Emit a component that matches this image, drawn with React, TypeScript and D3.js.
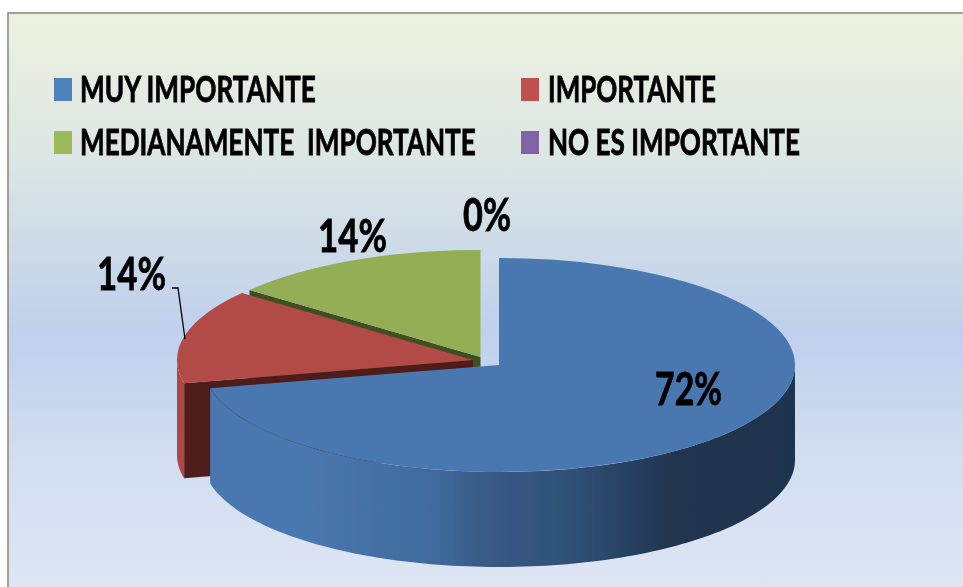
import React from "react";
import * as d3 from "d3";

const categories = ["MUY IMPORTANTE", "IMPORTANTE", "MEDIANAMENTE IMPORTANTE", "NO ES IMPORTANTE"];
const values = [71.5, 14.25, 14.25, 0];
const topColors = ["#4a78b0", "#b24b46", "#93ae55", "#7d61a0"];
const legendColors = ["#4f81bd", "#c0504d", "#9bbb59", "#8064a2"];
const wallColors = ["url(#blueWall)", "#ad4843", "#4a5c28", "#4a3a60"];
const faceColors = ["#2b4a70", "#4f1e1c", "#3f4f22", "#3a2c50"];
const slicePositions = [
  { cx: 499, cy: 365 },
  { cx: 473, cy: 360 },
  { cx: 480.5, cy: 357 },
  { cx: 480.5, cy: 357 },
];
const legendLayout = [
  { box: 54, x: 80, y: 102, w: 237, gap: 0 },
  { box: 521, x: 548, y: 102, w: 168, gap: 0 },
  { box: 54, x: 80, y: 155, w: 396, gap: 9 },
  { box: 521, x: 548, y: 155, w: 252, gap: 0 },
];
const labelLayout = [
  { x: 655, y: 405, w: 67 },
  { x: 97, y: 290, w: 69 },
  { x: 318, y: 252, w: 69 },
  { x: 463, y: 231, w: 48 },
];

const W = 963;
const H = 587;
const RX = 296;
const RY = 107;
const DEPTH = 95;
const FONT = "Lato, 'Open Sans', sans-serif";

const point = (cx: number, cy: number, a: number, drop = 0): [number, number] => [
  cx + RX * Math.sin(a),
  cy - RY * Math.cos(a) + drop,
];
const line = d3.line();

function ellipseArc(cx: number, cy: number, a0: number, a1: number, drop = 0) {
  return d3.range(0, 121).map((i) => point(cx, cy, a0 + ((a1 - a0) * i) / 120, drop));
}

function measure(text: string, size: number, gap: number) {
  const ctx = document.createElement("canvas").getContext("2d") as any;
  ctx.font = `700 ${size}px ${FONT}`;
  ctx.wordSpacing = `${gap}px`;
  return ctx.measureText(text).width;
}

function FitText({ text, x, y, w, size, gap = 0 }: { text: string; x: number; y: number; w: number; size: number; gap?: number }) {
  const sx = w / measure(text, size, gap);
  return (
    <text
      transform={`translate(${x},${y}) scale(${sx},1)`}
      fontFamily={FONT}
      fontWeight={700}
      fontSize={size}
      wordSpacing={gap}
      fill="#000"
      stroke="#000"
      strokeWidth={0.8}
    >
      {text}
    </text>
  );
}

export default function App() {
  const arcs = d3.pie<number>().sort(null).value((d) => d)(values);
  const arc = d3.arc();
  const order = [3, 2, 1, 0];

  return (
    <svg
      width={W}
      height={H}
      viewBox={`0 0 ${W} ${H}`}
      style={{ position: "fixed", left: 0, top: 0, display: "block" }}
    >
      <defs>
        <linearGradient id="bg" x1="0" y1="0" x2="0" y2="1">
          <stop offset="0" stopColor="#eef1df" />
          <stop offset="0.25" stopColor="#dbe5e4" />
          <stop offset="0.52" stopColor="#bfd0ec" />
          <stop offset="0.75" stopColor="#d3deF1" />
          <stop offset="1" stopColor="#e1e7f4" />
        </linearGradient>
        <linearGradient id="blueWall" gradientUnits="userSpaceOnUse" x1="210" y1="0" x2="795" y2="0">
          <stop offset="0" stopColor="#4a78b0" />
          <stop offset="0.15" stopColor="#4a78b0" />
          <stop offset="0.39" stopColor="#3f6a9c" />
          <stop offset="0.46" stopColor="#395b88" />
          <stop offset="0.63" stopColor="#2f4f74" />
          <stop offset="0.79" stopColor="#20344f" />
          <stop offset="1" stopColor="#1f344f" />
        </linearGradient>
        <filter id="soft" x="-5%" y="-5%" width="110%" height="110%">
          <feGaussianBlur stdDeviation="0.5" />
        </filter>
      </defs>
      <rect x={0} y={0} width={W} height={H} fill="#ffffff" />
      <rect x={8} y={13} width={W + 20} height={H + 20} fill="url(#bg)" stroke="#8c8c84" strokeWidth={1.6} />

      <g filter="url(#soft)">
        {order.map((i) => {
          const s = arcs[i];
          if (s.endAngle - s.startAngle < 1e-6) return null;
          const { cx, cy } = slicePositions[i];
          const parts: React.ReactNode[] = [];
          if (Math.sin(s.startAngle) < -1e-6) {
            const e = point(cx, cy, s.startAngle);
            const f = point(cx, cy, s.startAngle, DEPTH);
            parts.push(
              <path
                key="face"
                d={(line([[cx, cy], e, f, [cx, cy + DEPTH]]) ?? "") + "Z"}
                fill={faceColors[i]}
              />
            );
          }
          const a0 = Math.max(s.startAngle, Math.PI / 2);
          const a1 = Math.min(s.endAngle, (3 * Math.PI) / 2);
          if (a1 > a0) {
            const pts = [...ellipseArc(cx, cy, a0, a1), ...ellipseArc(cx, cy, a1, a0, DEPTH)];
            parts.push(<path key="wall" d={(line(pts) ?? "") + "Z"} fill={wallColors[i]} />);
          }
          const top = arc({
            innerRadius: 0,
            outerRadius: RX,
            startAngle: s.startAngle,
            endAngle: s.endAngle,
          } as any);
          parts.push(
            <path
              key="top"
              d={top ?? ""}
              transform={`translate(${cx},${cy}) scale(1,${RY / RX})`}
              fill={topColors[i]}
            />
          );
          return <g key={i}>{parts}</g>;
        })}

        <path d="M172,288 H178 L185,339" fill="none" stroke="#000" strokeWidth={1.3} />

        {categories.map((c, i) => {
          const l = legendLayout[i];
          return (
            <g key={c}>
              <rect x={l.box} y={l.y - 24} width={18} height={23} fill={legendColors[i]} />
              <FitText text={c} x={l.x} y={l.y} w={l.w} size={36} gap={l.gap} />
            </g>
          );
        })}

        {arcs.map((s, i) => {
          const l = labelLayout[i];
          return <FitText key={i} text={`${Math.round(s.data)}%`} x={l.x} y={l.y} w={l.w} size={46} />;
        })}
      </g>
    </svg>
  );
}
